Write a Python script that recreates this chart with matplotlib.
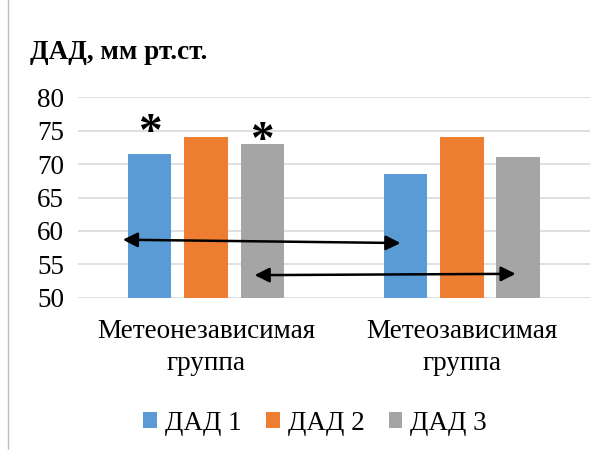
import numpy as np
import matplotlib.pyplot as plt
from matplotlib.lines import Line2D

plt.rcParams['font.family'] = ['Liberation Serif', 'DejaVu Serif']

groups = ["Метеонезависимая\nгруппа", "Метеозависимая\nгруппа"]
series = ["ДАД 1", "ДАД 2", "ДАД 3"]
dad1 = [71.5, 68.5]
dad2 = [74.0, 74.0]
dad3 = [73.0, 71.0]
colors = ["#5b9bd5", "#ed7d31", "#a5a5a5"]
yticks = [50, 55, 60, 65, 70, 75, 80]

# asterisks: (group, series index, level of the star centre)
stars = [(0, 0, 75.8), (0, 2, 74.6)]
# double arrows: ((x0, y0), (x1, y1)) in data units
arrows = [((-0.325, 58.7), (0.76, 58.2)),
          ((0.19, 53.4), (1.21, 53.6))]

fig = plt.figure(figsize=(6.05, 4.5), dpi=100)
ax = fig.add_axes([0.129, 0.338, 0.846, 0.446])

x = np.arange(len(groups))
width = 0.17
step = 0.22
values = [dad1, dad2, dad3]
for k in range(3):
    ax.bar(x + (k - 1) * step, values[k], width, bottom=0,
           color=colors[k], label=series[k], zorder=3)

for g, k, lev in stars:
    ax.text(x[g] + (k - 1) * step, lev - 4.5, "*", ha="center",
            va="bottom", fontsize=34, fontweight="bold", zorder=4)

for (x0, y0), (x1, y1) in arrows:
    ax.annotate("", xy=(x1, y1), xytext=(x0, y0),
                arrowprops=dict(arrowstyle="<|-|>", color="black", lw=1.8,
                                mutation_scale=22, shrinkA=0, shrinkB=0),
                zorder=5)

ax.set_ylim(50, 80)
ax.set_xlim(-0.5, 1.5)
ax.set_yticks(yticks)
ax.set_xticks(x)
ax.set_xticklabels(groups, fontsize=19.5, linespacing=1.4)
ax.tick_params(axis="y", labelsize=19.5, length=0, pad=10)
ax.tick_params(axis="x", length=0, pad=15)
ax.grid(axis="y", color="#d9d9d9", lw=1.2, zorder=0)
for s in ax.spines.values():
    s.set_visible(False)

fig.text(0.05, 0.884, "ДАД, мм рт.ст.", fontsize=19.5, fontweight="bold",
         ha="left", va="center")

ax.legend(loc="center", bbox_to_anchor=(0.521, 0.06),
          bbox_transform=fig.transFigure, ncol=3, frameon=False,
          fontsize=19.5, handlelength=0.5, handleheight=0.5,
          handletextpad=0.3, columnspacing=0.9)

fig.add_artist(Line2D([0.014, 0.014], [0.0, 1.0], color="#bfbfbf", lw=1,
                      transform=fig.transFigure))

fig.savefig("out.png", dpi=100)
